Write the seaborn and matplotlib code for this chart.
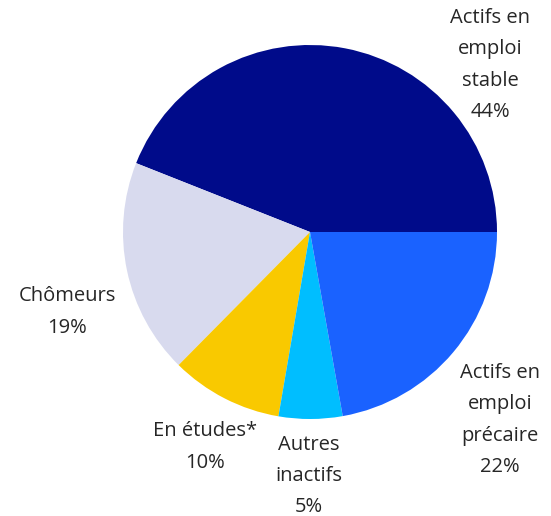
import seaborn as sns
import matplotlib.pyplot as plt

# data
categories = ["Actifs en\nemploi\nstable", "Chômeurs", "En études*",
              "Autres\ninactifs", "Actifs en\nemploi\nprécaire"]
shares = [44.0, 18.6, 9.7, 5.5, 22.2]
share_labels = ["44%", "19%", "10%", "5%", "22%"]
colors = ["#000B8A", "#D8DAEE", "#F9C900", "#00BEFF", "#1A62FF"]

sns.set_theme(style="white")
plt.rcParams['font.family'] = ['Open Sans', 'DejaVu Sans']

W, H = 551, 516
fig = plt.figure(figsize=(W / 100, H / 100), dpi=100)
ax = fig.add_axes([0, 0, 1, 1])

ax.pie(shares, colors=colors, startangle=0, counterclock=True,
       center=(310, H - 232), radius=187,
       wedgeprops={'linewidth': 0})

# pie() resets the limits, so set them afterwards
ax.set_xlim(0, W)
ax.set_ylim(0, H)
ax.set_aspect('equal')
ax.axis('off')

# label anchor points (pixel layout, y from top)
label_pos = [(490, 65), (67, 312), (205, 447), (309, 476), (500, 420)]
for name, lab, (x, y) in zip(categories, share_labels, label_pos):
    ax.text(x, H - y, f"{name}\n{lab}", ha='center', va='center',
            fontsize=14.5, color='#262626', linespacing=1.75)

fig.savefig("out.png", dpi=100)
